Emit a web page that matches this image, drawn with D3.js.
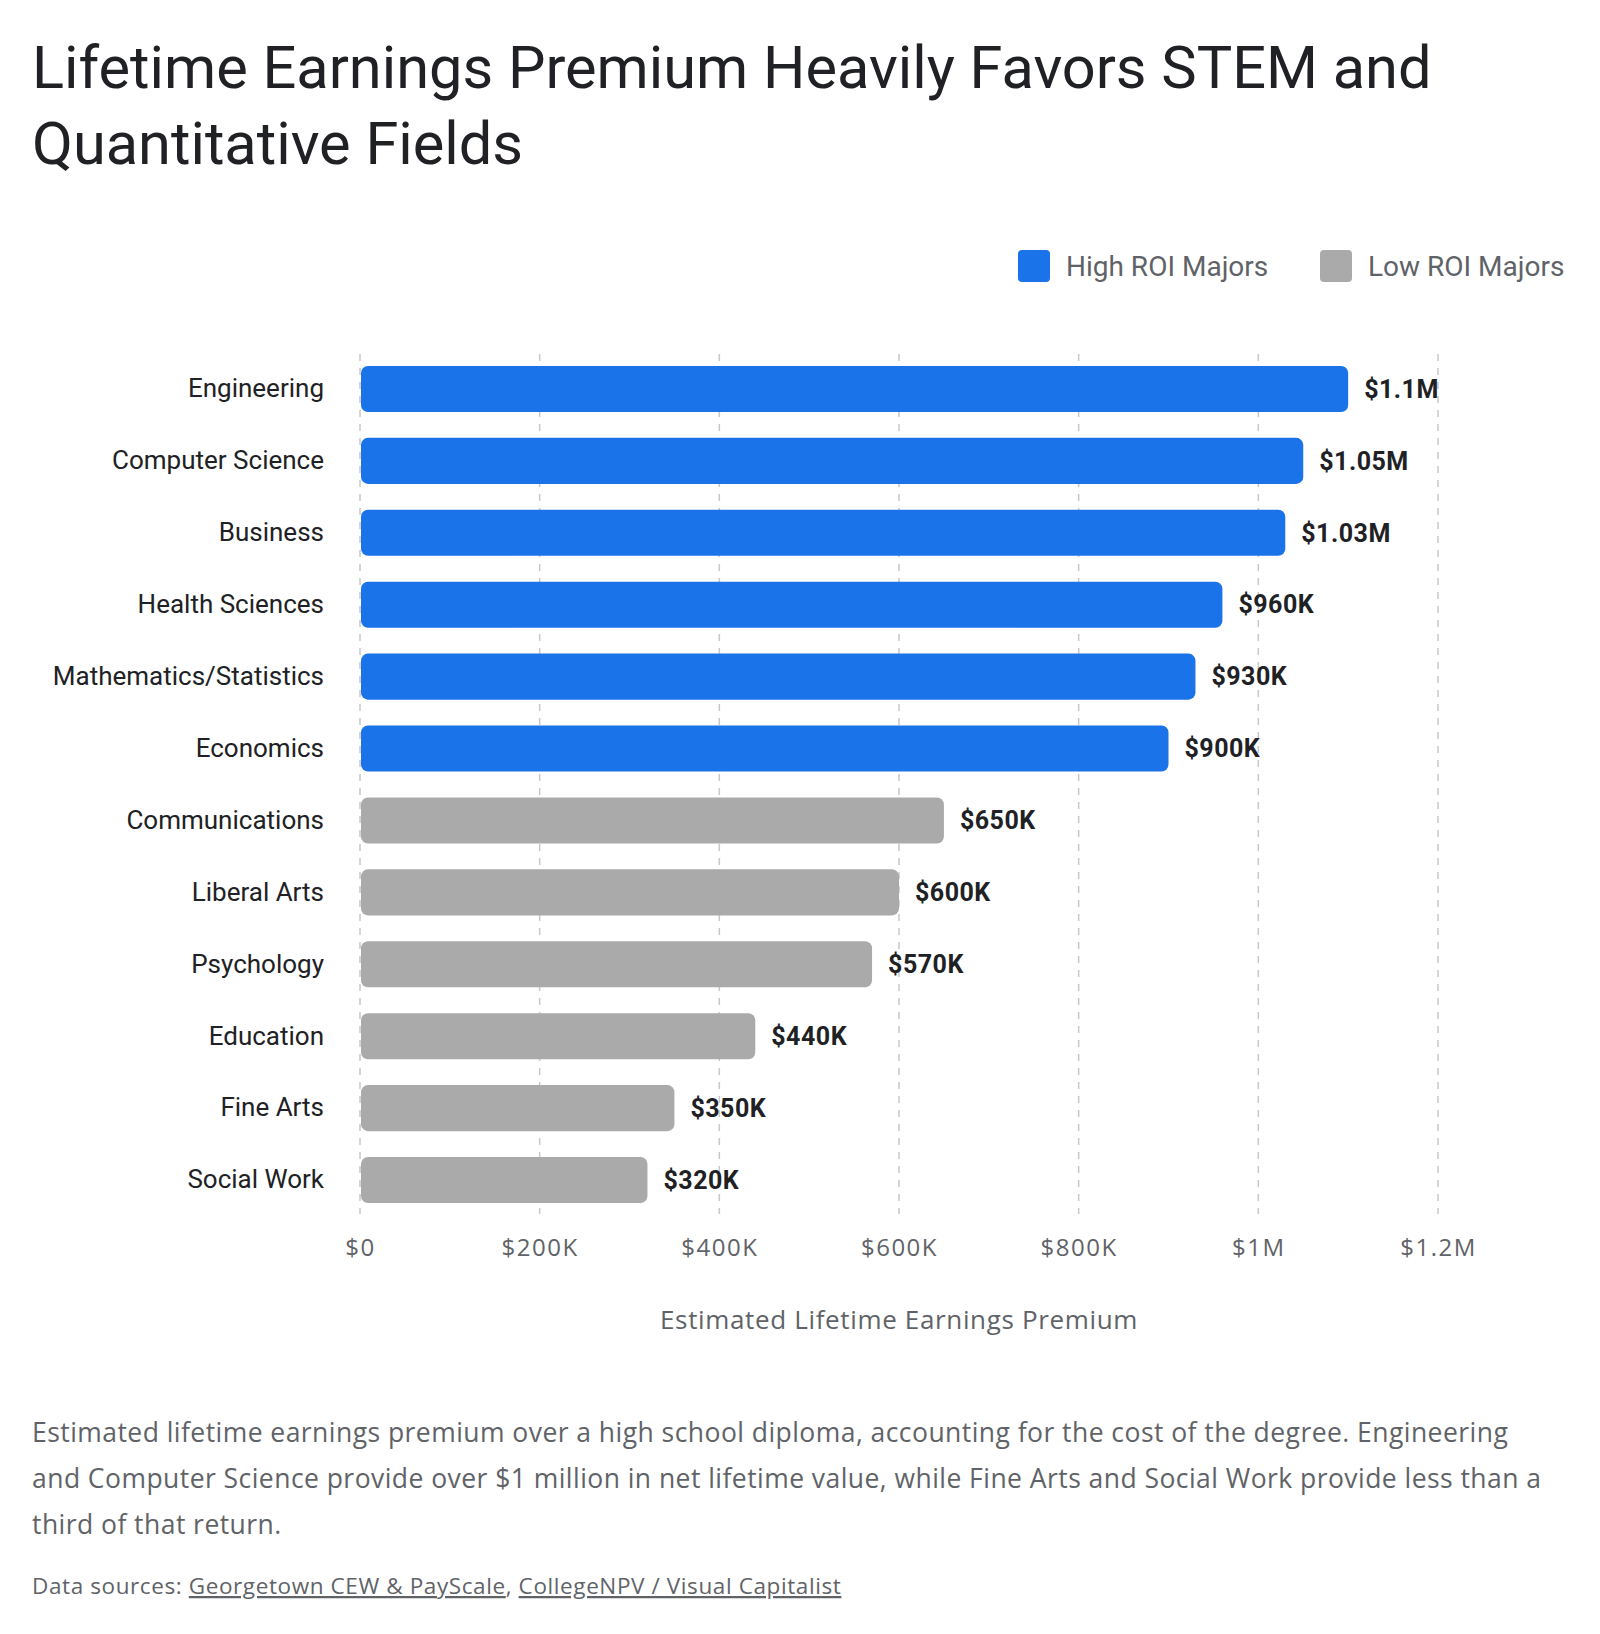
<!DOCTYPE html>
<html>
<head>
<meta charset="utf-8">
<script src="https://cdn.jsdelivr.net/npm/d3@7"></script>
<style>
  body { margin: 0; background: #fff; }
  svg text { font-family: Roboto, "Noto Sans", sans-serif; }
</style>
</head>
<body>
<script>
// data
var majors = ["Engineering", "Computer Science", "Business", "Health Sciences",
  "Mathematics/Statistics", "Economics", "Communications", "Liberal Arts",
  "Psychology", "Education", "Fine Arts", "Social Work"]
var premium = [1100000, 1050000, 1030000, 960000, 930000, 900000,
  650000, 600000, 570000, 440000, 350000, 320000]
var group = ["High", "High", "High", "High", "High", "High",
  "Low", "Low", "Low", "Low", "Low", "Low"]
var valueLabels = ["$1.1M", "$1.05M", "$1.03M", "$960K", "$930K", "$900K",
  "$650K", "$600K", "$570K", "$440K", "$350K", "$320K"]
var tickValues = [0, 200000, 400000, 600000, 800000, 1000000, 1200000]
var tickLabels = ["$0", "$200K", "$400K", "$600K", "$800K", "$1M", "$1.2M"]
var legendNames = ["High ROI Majors", "Low ROI Majors"]

var colors = { High: "#1a73e8", Low: "#aaaaaa" }
var openSans = "'Open Sans', sans-serif"

var svg = d3.select("body").append("svg")
  .attr("width", 1600)
  .attr("height", 1634)

// title
var title = svg.append("text")
  .attr("x", 33)
  .attr("fill", "#202124")
  .attr("font-size", 59.5)
title.append("tspan").attr("x", 32).attr("y", 88).text("Lifetime Earnings Premium Heavily Favors STEM and")
title.append("tspan").attr("x", 32).attr("y", 164).text("Quantitative Fields")

// legend
var legend = svg.append("g")
var legendX = [1018, 1320]
legendNames.forEach(function(name, i) {
  legend.append("rect")
    .attr("x", legendX[i]).attr("y", 250)
    .attr("width", 32).attr("height", 32)
    .attr("rx", 4)
    .attr("fill", i == 0 ? colors.High : colors.Low)
  legend.append("text")
    .attr("x", legendX[i] + 48).attr("y", 266)
    .attr("dy", "0.35em")
    .attr("font-size", 28)
    .attr("fill", "#5f6368")
    .text(name)
})

// scales
var x = d3.scaleLinear().domain([0, 1200000]).range([360, 1438])
var y = d3.scaleBand().domain(majors).range([353, 1216])
  .paddingInner(0.36).paddingOuter(0.18)

// grid
svg.append("g").selectAll("line")
  .data(tickValues)
  .join("line")
  .attr("x1", d => x(d)).attr("x2", d => x(d))
  .attr("y1", 354).attr("y2", 1214)
  .attr("stroke", "#c8c8c8")
  .attr("stroke-width", 1.5)
  .attr("stroke-dasharray", "7 7")

// x axis (labels only)
var xAxis = svg.append("g")
  .attr("transform", "translate(0,1239)")
  .call(d3.axisBottom(x).tickValues(tickValues)
    .tickFormat((d, i) => tickLabels[i]).tickSize(0).tickPadding(0))
xAxis.select(".domain").remove()
xAxis.selectAll("text")
  .attr("font-size", 24)
  .attr("fill", "#5f6368")
  .style("font-family", openSans)
  .style("letter-spacing", "1.5px")
  .attr("dy", "0.71em")

svg.append("text")
  .attr("x", x(600000)).attr("y", 1320)
  .attr("dy", "0.35em")
  .attr("text-anchor", "middle")
  .attr("font-size", 26)
  .style("font-family", openSans)
  .style("letter-spacing", "0.65px")
  .attr("fill", "#5f6368")
  .text("Estimated Lifetime Earnings Premium")

// y axis
var yAxis = svg.append("g")
  .attr("transform", "translate(324,0)")
  .call(d3.axisLeft(y).tickSize(0).tickPadding(0))
yAxis.select(".domain").remove()
yAxis.selectAll("text")
  .attr("font-size", 26)
  .attr("fill", "#202124")
  .style("font-family", "Roboto, sans-serif")

// bars
var rows = majors.map((m, i) => ({ name: m, value: premium[i], group: group[i], label: valueLabels[i] }))

svg.append("g").selectAll("rect")
  .data(rows)
  .join("rect")
  .attr("x", x(0) + 1)
  .attr("y", d => y(d.name))
  .attr("width", d => x(d.value) - x(0) - 1)
  .attr("height", y.bandwidth())
  .attr("rx", 7)
  .attr("fill", d => colors[d.group])

svg.append("g").selectAll("text")
  .data(rows)
  .join("text")
  .attr("x", d => x(d.value) + 16)
  .attr("y", d => y(d.name) + y.bandwidth() / 2)
  .attr("dy", "0.35em")
  .attr("font-size", 25)
  .attr("font-weight", 700)
  .style("letter-spacing", "0.5px")
  .attr("fill", "#202124")
  .text(d => d.label)

// description
var desc = svg.append("text")
  .attr("font-size", 26.5)
  .style("font-family", openSans)
  .style("letter-spacing", "0.45px")
  .attr("fill", "#5f6368")
var descLines = [
  "Estimated lifetime earnings premium over a high school diploma, accounting for the cost of the degree. Engineering",
  "and Computer Science provide over $1 million in net lifetime value, while Fine Arts and Social Work provide less than a",
  "third of that return."
]
descLines.forEach(function(l, i) {
  desc.append("tspan").attr("x", 32).attr("y", 1442 + i * 46).text(l)
})

// sources
var src = svg.append("text")
  .attr("x", 32).attr("y", 1594)
  .attr("font-size", 22.5)
  .style("font-family", openSans)
  .style("letter-spacing", "0.6px")
  .attr("fill", "#5f6368")
src.append("tspan").text("Data sources: ")
src.append("tspan").attr("text-decoration", "underline").text("Georgetown CEW & PayScale")
src.append("tspan").text(", ")
src.append("tspan").attr("text-decoration", "underline").text("CollegeNPV / Visual Capitalist")
</script>
</body>
</html>
